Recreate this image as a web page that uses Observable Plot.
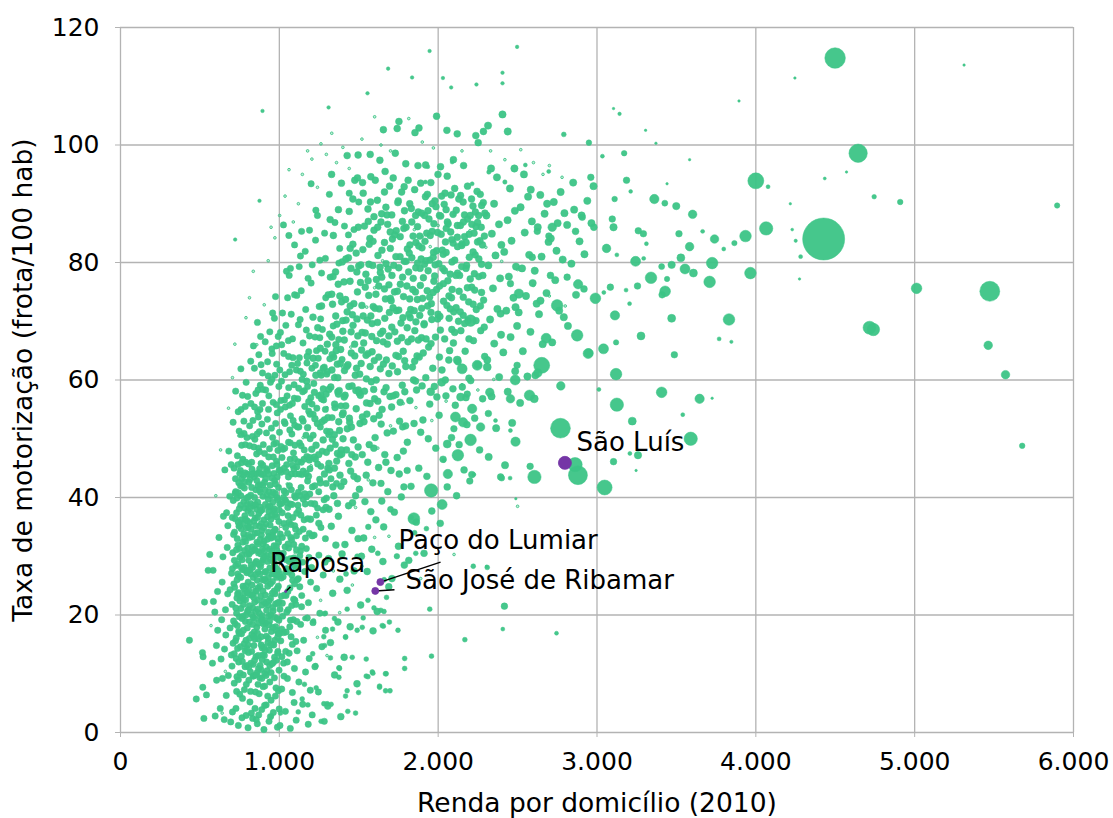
<!DOCTYPE html>
<html><head><meta charset="utf-8">
<script src="https://cdn.jsdelivr.net/npm/d3@7"></script>
<script src="https://cdn.jsdelivr.net/npm/@observablehq/plot@0.6"></script>
<style>body{margin:0;background:#fff;} svg{display:block;}</style>
</head><body><div id="chart"></div>
<script>
const xTicks = [0,1000,2000,3000,4000,5000,6000];
const yTicks = [0,20,40,60,80,100,120];
const xLabel = "Renda por domicílio (2010)";
const yLabel = "Taxa de motorização (frota/100 hab)";

// dense cloud, municipalities with low income (pairs: income, rate)
const cloudCore = [
[434,15.7],[477,5.7],[516,13.6],[520,12.9],[518,7.7],[541,6.4],[525,2.4],[529,22.2],[579,11.8],[596,2.8],[583,27.6],[562,30.3],[552,27.6],[585,22.3],[594,20.5],[640,25.6],[612,17.4],[605,8.9],[628,4.1],[655,14.2],[672,31.5],[648,36.8],[688,40.2],[661,20.9],[679,9.7],[633,12.5],[694,1.8],[657,44.7],[620,33.2],[699,27.1],[666,6.3],[690,17.8],[645,29.9],[611,24.0],[682,47.9],[675,23.6],[653,2.2],[604,14.8],[637,19.2],[668,37.4],[698,13.2],[642,9.2],
[705,3.5],[742,1.2],[768,5.8],[791,2.9],[716,8.4],[753,10.1],[780,7.3],[728,12.6],[797,11.4],[709,15.2],[737,14.3],[762,16.8],[785,13.9],[721,18.5],[748,19.7],[774,17.4],[799,20.6],[703,21.8],[733,22.9],[758,21.1],[782,23.7],[714,25.3],[745,26.6],[771,24.9],[795,27.2],[726,28.4],[752,29.8],[779,28.1],[707,30.6],[739,31.9],[764,30.2],[788,32.5],[718,34.1],[750,35.3],[776,33.8],[799,36.0],[731,37.4],[757,38.7],[783,36.9],[710,39.5],[742,40.8],[769,41.9],[794,39.9],[724,43.2],[755,44.6],[781,42.7],[736,47.1],[763,48.9],[789,46.0],[747,51.3],[777,53.0],[796,50.2],[768,57.4],[791,59.6],
[712,19.0],[729,16.1],[761,13.0],[786,18.9],[744,23.8],[770,27.7],[717,29.3],[791,25.0],[735,33.0],[760,34.7],[782,31.0],[704,36.6],[748,38.1],[777,39.3],[725,41.0],[798,44.0],[756,42.0],[739,45.6],[770,46.5],[715,45.0],[786,49.0],[759,55.0],[742,9.0],[790,15.7],[774,21.8],[731,7.0],[765,2.5],
[803,0.8],[832,2.4],[861,1.5],[889,3.9],[815,5.2],[847,4.1],[873,6.6],[898,7.8],[808,8.9],[838,9.6],[866,8.2],[884,10.7],[821,11.8],[853,12.9],[879,11.4],[806,13.6],[840,14.8],[869,15.9],[895,13.2],[827,16.7],[858,17.9],[886,16.3],[812,18.8],[845,19.4],[874,20.3],[899,18.5],[833,21.2],[862,22.5],[891,21.7],[817,23.4],[849,24.1],[878,24.9],[804,25.6],[836,26.4],[866,27.3],[893,26.0],[823,28.5],[855,29.1],[882,28.2],[810,30.4],[843,31.2],[871,30.7],[897,32.1],[829,33.3],[860,34.0],[887,33.6],[814,35.7],[848,36.5],[876,35.1],[802,37.8],[835,38.6],[864,39.2],[892,37.9],[820,40.4],[852,41.3],[881,40.9],[808,42.6],[841,43.5],[869,44.2],[896,42.1],[826,46.0],[857,47.4],[885,45.8],[813,48.8],[846,49.9],[874,51.2],[899,49.0],[834,53.1],[863,54.6],[890,52.5],[821,56.0],[852,57.7],[880,59.1],[843,62.0],[871,64.3],[894,61.2],[837,65.8],[882,67.4],
[811,16.0],[825,20.1],[839,23.0],[851,26.9],[868,18.6],[883,23.2],[897,29.4],[816,27.7],[830,31.6],[859,32.4],[872,37.3],[887,35.6],[818,39.0],[844,40.0],[866,42.0],[828,44.8],[857,38.0],[805,20.9],[892,14.4],[877,9.3],[850,6.9],[824,3.3],[870,3.0],[836,11.6],[860,10.2],[897,24.1],[842,17.1],[812,33.2],[854,44.0],[875,47.8],[889,43.9],[806,45.7],[831,50.4],[860,50.8],[894,56.0],[878,55.0],[866,58.3],
[903,0.5],[935,1.9],[962,3.4],[988,0.9],[917,4.7],[948,5.5],[975,6.2],[999,4.0],[908,7.9],[940,8.6],[969,9.3],[994,7.1],[923,10.5],[954,11.7],[981,12.3],[906,13.1],[937,14.0],[965,14.9],[991,13.8],[919,16.4],[950,17.2],[977,18.0],[902,19.1],[933,19.8],[961,20.7],[986,19.4],[914,22.0],[945,22.8],[973,23.6],[998,22.2],[927,24.9],[957,25.7],[983,26.4],[909,27.3],[940,28.0],[968,28.8],[993,27.6],[921,30.1],[952,30.9],[979,31.7],[904,32.6],[935,33.4],[963,34.2],[989,33.0],[916,35.5],[947,36.3],[974,37.1],[997,35.9],[929,38.4],[959,39.2],[985,40.0],[911,41.3],[942,42.1],[970,42.9],[995,41.7],[924,44.6],[955,45.4],[982,46.2],[907,47.5],[938,48.3],[966,49.1],[991,48.0],[919,51.0],[950,51.8],[977,52.6],[932,55.0],[961,56.2],[987,54.4],[914,58.3],[944,59.6],[972,60.8],[997,58.9],[926,63.1],[955,64.5],[983,62.7],[940,68.2],[969,70.5],[993,67.4],[953,65.3],[930,60.7],[976,74.2],
[913,18.6],[931,16.0],[944,25.3],[958,21.3],[972,15.7],[987,24.5],[905,29.9],[925,36.7],[939,31.2],[962,37.8],[978,28.0],[996,30.5],[912,38.8],[949,40.3],[966,44.1],[986,43.5],[901,44.0],[933,46.9],[958,50.2],[980,49.3],[920,12.0],[946,20.0],[992,16.9],[963,27.0],[935,41.0],[954,33.6],[915,25.8],[975,34.5],[908,10.0],[998,10.6],[944,2.7],[927,6.2],
[1004,1.2],[1038,3.6],[1069,0.7],[1093,5.1],[1015,7.4],[1051,9.2],[1082,6.8],[1027,11.8],[1062,13.5],[1095,10.9],[1009,15.6],[1043,17.1],[1074,16.3],[1021,19.8],[1056,20.9],[1088,19.2],[1033,23.4],[1067,24.6],[1098,22.5],[1012,26.3],[1047,27.9],[1079,26.8],[1025,30.5],[1059,31.4],[1091,29.7],[1006,33.8],[1040,34.9],[1072,33.2],[1018,37.4],[1053,38.3],[1085,36.6],[1030,41.1],[1064,42.0],[1096,40.3],[1011,44.3],[1046,45.6],[1077,44.0],[1023,48.2],[1058,49.4],[1089,47.6],[1036,52.6],[1070,53.9],[1001,51.1],[1049,57.3],[1082,56.0],[1014,59.8],[1065,61.4],[1093,59.2],[1028,64.5],[1057,66.7],[1086,63.8],[1041,69.3],[1075,71.2],[1020,71.4],[1096,74.5],[1062,77.8],[1070,79.0],[1026,86.4],[1096,83.0],[1050,12.0],[1084,25.9],[1037,39.6],[1068,46.5],[1003,38.9],[1019,22.0],[1078,32.8],[1044,29.4],[1092,44.9],[1008,55.0],[1031,45.0],[1061,35.8],[1097,52.3],[1003,61.7],[1052,74.0],
[1106,2.1],[1147,4.8],[1182,1.4],[1123,8.6],[1165,10.3],[1195,7.2],[1112,13.9],[1153,15.7],[1188,12.6],[1134,18.4],[1176,19.5],[1104,21.8],[1141,23.3],[1183,22.1],[1119,26.2],[1160,27.4],[1197,25.6],[1129,30.1],[1170,31.3],[1108,33.5],[1150,34.6],[1189,33.9],[1122,37.8],[1163,38.9],[1137,41.7],[1178,42.8],[1110,45.2],[1155,46.5],[1193,44.9],[1127,49.3],[1168,50.6],[1143,53.4],[1185,54.7],[1116,56.8],[1158,58.2],[1198,57.0],[1132,61.5],[1174,62.9],[1149,66.3],[1190,67.5],[1120,69.4],[1166,72.0],[1138,75.2],[1181,77.3],[1133,81.1],[1163,81.9],[1200,93.4],[1156,36.2],[1102,40.0],[1146,29.0],[1192,40.6],[1173,47.0],[1115,52.0],[1187,29.8],[1126,63.8],[1160,55.5],[1105,28.0],[1139,46.0],[1179,36.4],[1151,61.0],[1194,50.0],
[1207,3.0],[1246,6.9],[1283,1.9],[1224,11.2],[1268,14.6],[1212,18.7],[1255,20.3],[1291,17.4],[1235,24.5],[1276,26.8],[1203,28.1],[1249,30.2],[1288,29.0],[1219,33.6],[1262,34.9],[1241,38.2],[1282,39.6],[1208,41.8],[1254,43.1],[1295,42.4],[1228,46.5],[1270,47.9],[1213,50.6],[1258,52.0],[1297,51.3],[1236,55.2],[1279,56.6],[1217,59.4],[1264,60.8],[1245,63.7],[1288,64.9],[1225,67.3],[1271,68.6],[1207,79.6],[1251,72.5],[1292,74.0],[1228,83.8],[1266,78.2],[1240,88.0],[1285,85.0],[1262,45.3],[1233,37.0],[1276,58.5],[1205,62.0],[1290,33.0],[1248,57.3],[1223,42.0],[1299,61.0]
];

// more of the dense core (further reading passes)
const cloudCore2 = [
[702,11.3],[719,24.7],[733,39.9],[751,6.5],[766,29.4],[784,44.2],[798,17.8],[712,33.7],[727,4.1],[744,17.2],[759,36.2],[773,9.8],[788,22.6],[805,40.1],[819,7.0],[828,25.1],[846,33.9],[855,2.2],[868,48.4],[881,19.6],[893,31.2],[907,4.6],[918,44.9],[929,21.7],[941,38.5],[956,15.1],[967,31.8],[979,7.6],[992,39.6],[1004,21.0],[1017,46.8],[1029,9.6],[1041,27.4],[1055,36.9],[1066,18.0],[1079,50.8],[1091,32.0],[1104,15.5],[1117,38.7],[1129,24.8],[1142,43.9],[690,24.3],[676,35.2],[663,16.6],[697,45.6],[709,52.8],[725,58.1],[741,54.6],[758,61.9],[778,50.9],[801,57.2],[820,63.2],[844,55.4],[862,69.8],[885,62.6],[911,66.5],[934,57.3],[958,71.4],[981,65.8],[1007,68.1],[1032,56.6],[1058,64.0],[1083,67.0],[1107,61.7],[1131,70.3],[1147,58.0],
[716,13.4],[731,20.3],[748,31.3],[763,43.2],[779,15.1],[794,34.8],[808,24.2],[823,37.3],[837,44.1],[852,20.6],[867,13.1],[882,37.7],[896,45.5],[911,23.4],[926,29.1],[940,11.4],[953,43.3],[968,24.1],[983,36.7],[997,19.1],[1012,29.6],[1026,40.0],[1040,13.8],[1054,24.0],[1069,38.9],[1083,29.2],[1098,48.9],[1112,26.0],[1126,34.2],[1140,21.4],[705,27.9],[722,36.4],[738,27.0],[754,23.0],[771,35.6],[786,27.6],[801,31.4],[815,43.1],[831,18.4],[848,28.8],[863,36.6],[877,27.0],[890,9.2],[903,36.2],[916,9.7],[931,34.1],[947,30.2],[962,46.9],[976,21.9],[990,29.8],[1005,44.7],[1019,33.2],[1034,48.4],[1047,20.5],[1062,29.1],[1076,41.3],[1090,22.7],[1103,34.6],[1118,46.1],[1133,30.9],
[736,18.2],[757,26.4],[781,33.1],[803,14.9],[824,30.8],[845,22.2],[866,32.1],[888,28.9],[909,17.6],[930,26.4],[951,37.0],[972,28.2],[994,24.9],[1015,17.6],[1036,31.6],[1057,43.5],[1078,21.6],[1099,28.3],[1120,40.9],[1141,31.7],
[752,22.4],[767,12.1],[783,38.2],[739,28.7],[724,15.6],[796,30.3],[808,11.1],[822,34.6],[838,16.3],[851,31.0],[865,24.6],[879,42.2],[893,19.9],[906,26.1],[921,40.4],[935,18.3],[948,33.1],[962,11.9],[975,40.7],[989,16.2],[1002,27.0],[1016,12.9],[1029,35.6],[1043,44.4],[1056,27.3],[1070,19.1],[1083,45.5],[1097,35.2],[1110,18.9],[1124,44.0],[746,35.1],[761,45.9],[777,24.5],[792,8.2],[806,35.0],[820,27.0],[834,9.6],[849,38.8],[862,16.9],[876,44.9],[890,34.4],[903,14.5],[917,31.6],[931,44.0],[944,14.9],[958,29.2],[971,19.6],[985,45.6],[999,37.9],[1013,23.2],[1027,17.0],[1041,40.8],[1055,32.1],[1069,49.3],[1082,15.0],[1096,25.3],[1109,37.3],[1123,29.0],[1137,48.8],[1151,39.7],[733,9.5],[745,42.5],[771,19.8],[799,23.8],[826,41.7],[853,9.8],[880,32.9],[907,42.6],[934,22.4],[961,40.9],[988,22.0],[1015,39.0],[1042,23.3],[1069,29.6],[1096,46.6],[1123,52.0],[1150,44.5],[1064,55.7],[1036,60.9],[1010,56.5],[981,55.8],[953,60.1],[925,53.3],[896,58.4],[868,53.7],[840,48.6],[813,52.2],[786,55.5],[760,50.7],
[726,21.2],[741,35.8],[755,14.6],[769,32.4],[784,11.2],[798,38.8],[812,21.6],[826,13.8],[841,36.0],[855,24.0],[869,10.9],[883,30.4],[897,40.2],[911,14.0],[925,32.9],[939,19.0],[953,27.0],[967,38.1],[981,17.4],[995,32.4],
[730,31.1],[744,12.0],[758,40.3],[772,22.8],[787,36.3],[801,27.5],[815,38.2],[829,23.4],[844,12.3],[858,42.9],[872,28.6],[886,14.9],[900,22.3],[914,43.2],[928,15.3],[942,35.3],[956,23.7],[970,12.8],[984,31.0],[998,44.6],
[722,40.7],[737,23.6],[751,44.1],[765,19.4],[780,41.6],[794,14.3],[808,29.3],[822,43.9],[836,19.6],[850,35.2],[864,21.0],[878,38.4],[892,12.4],[906,30.9],[920,20.8],[934,37.6],[948,10.2],[962,33.3],[976,42.3],[990,13.5],
[734,26.0],[748,16.9],[762,28.0],[776,43.8],[790,20.0],[804,33.6],[818,10.3],[832,28.1],[846,15.9],[860,25.9],[874,41.3],[888,19.1],[902,34.9],[916,27.4],[930,39.7],[944,29.5],[958,17.9],[972,34.6],[986,26.8],[1000,16.8],
[1010,48.7],[1024,26.5],[1038,55.4],[1052,33.9],[1066,51.5],[1080,38.8],[1094,56.9],[1108,31.1],[1122,58.6],[1136,37.0],[1150,53.0],[1164,33.1],[1178,58.9],[1192,46.8],[1206,55.9],[1220,46.9],[1234,65.0],[1248,41.0],[1262,57.5],[1276,37.9],[1290,55.0],[1304,45.0],[1318,63.6],[1332,53.6],[1346,60.4],[1360,42.4],[1374,66.9],[1388,55.6],
[1017,29.8],[1031,52.9],[1045,39.2],[1059,58.7],[1073,35.4],[1087,53.1],[1101,44.0],[1115,62.8],[1129,40.3],[1143,60.1],[1157,48.1],[1171,40.1],[1185,64.8],[1199,39.0],[1213,54.2],[1227,62.5],[1241,45.7],[1255,67.2],[1269,52.9],[1283,62.2],[1297,39.9],[1311,50.7],[1325,43.2],[1339,69.2],[1353,49.0],[1367,58.0],[1381,47.2],[1395,63.5],
[1015,66.0],[1045,78.5],[1078,62.5],[1110,74.4],[1140,85.3],[1170,68.5],[1200,76.5],[1230,88.9],[1260,70.4],[1290,80.7],[1320,77.5],[1350,86.8],[1380,82.4],[1410,86.2],[1440,91.8],[1470,85.6],[1500,90.3],[1060,84.6],[1125,79.3],[1190,85.5],[1255,80.4],[1315,91.6],[1375,79.9],[1435,84.7]
];

// the rising band of middle incomes
const cloudBand = [
[1305,4.5],[1348,9.8],[1387,2.7],[1322,15.3],[1369,18.8],[1336,23.7],[1381,26.1],[1310,29.6],[1356,31.9],[1395,30.4],[1327,35.1],[1372,36.8],[1343,40.3],[1388,41.9],[1315,44.7],[1361,46.2],[1334,49.9],[1379,51.4],[1306,53.6],[1351,55.3],[1397,54.1],[1324,58.8],[1368,60.4],[1342,63.9],[1386,65.2],[1317,67.8],[1362,69.5],[1335,72.9],[1381,74.3],[1320,87.3],[1354,78.4],[1396,80.1],[1340,84.6],[1372,89.0],[1329,95.0],[1391,93.5],[1347,45.0],[1393,47.4],[1366,39.0],[1313,38.0],[1377,58.2],[1331,61.7],[1358,65.0],[1399,70.1],[1308,74.5],
[1408,12.8],[1446,18.0],[1489,8.3],[1427,24.2],[1471,27.5],[1413,32.0],[1457,34.4],[1496,33.0],[1436,38.6],[1480,40.3],[1406,42.7],[1449,44.5],[1492,43.2],[1423,48.1],[1466,49.8],[1441,53.5],[1484,55.1],[1414,57.4],[1458,59.0],[1498,58.3],[1432,62.6],[1475,64.1],[1409,66.8],[1452,68.2],[1494,67.5],[1427,71.6],[1469,73.0],[1445,76.8],[1488,78.4],[1419,80.6],[1463,83.1],[1497,86.0],[1440,88.7],[1463,90.8],[1496,98.3],[1427,98.2],[1475,94.0],[1492,94.4],[1454,52.0],[1438,45.8],[1478,46.9],[1401,50.0],[1461,39.1],[1486,62.0],[1417,73.7],[1451,79.0],
[1512,21.7],[1553,27.4],[1590,17.3],[1531,33.1],[1576,37.6],[1504,41.4],[1547,43.8],[1589,42.5],[1522,47.3],[1566,49.0],[1508,52.6],[1551,54.2],[1594,53.4],[1536,58.1],[1579,59.7],[1515,62.8],[1559,64.5],[1598,63.3],[1541,68.0],[1584,69.6],[1520,72.7],[1563,74.4],[1545,78.0],[1588,79.5],[1526,82.2],[1570,84.1],[1574,90.3],[1528,91.8],[1524,93.6],[1576,94.6],[1572,98.4],[1557,46.0],[1595,48.4],[1533,52.9],[1571,56.0],[1503,57.8],[1548,60.2],[1591,72.5],[1511,76.6],[1560,87.0],[1596,85.5],[1539,39.3],[1582,31.2],[1517,30.0],
[1616,20.6],[1652,29.1],[1689,24.8],[1608,36.2],[1645,39.4],[1683,41.0],[1625,45.1],[1664,47.3],[1603,50.2],[1641,52.5],[1679,51.0],[1620,56.4],[1659,58.0],[1697,57.2],[1636,61.9],[1674,63.4],[1612,66.7],[1651,68.3],[1690,67.5],[1629,72.1],[1668,73.8],[1645,77.5],[1685,78.9],[1621,81.2],[1662,83.4],[1699,82.4],[1640,86.9],[1678,88.1],[1633,97.4],[1666,95.5],[1662,92.0],[1617,90.6],[1655,102.6],[1604,94.0],[1694,93.0],[1647,55.0],[1671,46.0],[1610,60.0],[1693,71.5],[1626,76.0],[1657,35.0],
[1709,26.2],[1750,31.7],[1787,28.5],[1724,37.5],[1768,40.1],[1703,44.6],[1742,46.8],[1781,47.9],[1718,51.3],[1757,53.0],[1795,52.2],[1734,57.5],[1774,59.1],[1711,62.4],[1750,64.0],[1789,63.3],[1727,68.2],[1766,69.7],[1704,73.5],[1743,75.1],[1782,74.2],[1720,79.5],[1760,81.0],[1798,80.2],[1736,85.4],[1775,87.0],[1717,94.4],[1786,92.9],[1742,102.8],[1753,104.0],[1749,90.5],[1796,96.8],[1730,98.6],[1761,56.2],[1712,84.0],[1790,58.0],[1737,71.8],[1776,77.5],[1707,55.4],[1755,44.0],
[1815,29.3],[1862,35.8],[1829,41.9],[1878,45.0],[1806,49.4],[1848,52.6],[1890,51.1],[1822,56.5],[1864,58.3],[1838,62.2],[1881,63.9],[1810,66.5],[1853,68.4],[1895,67.2],[1827,72.0],[1869,73.7],[1843,77.3],[1886,79.0],[1818,81.6],[1860,83.4],[1898,82.5],[1834,86.9],[1875,88.6],[1852,92.4],[1811,94.0],[1890,93.5],[1854,102.1],[1879,102.9],[1873,96.5],[1845,60.0],[1899,59.0],[1803,76.0],[1870,79.9],[1821,90.0],[1857,75.0],[1884,71.0],[1832,67.0],
[1911,30.5],[1960,37.7],[1929,43.6],[1985,48.4],[1904,53.2],[1947,55.9],[1992,57.1],[1922,60.4],[1966,62.0],[1940,65.6],[1983,67.3],[1912,69.6],[1955,71.5],[1997,70.4],[1931,75.2],[1973,76.8],[1948,80.4],[1990,82.0],[1917,83.6],[1962,85.3],[1936,88.8],[1979,90.5],[1954,93.6],[1999,95.0],[1921,96.6],[1990,104.9],[1907,77.4],[1938,50.0],[1976,58.9],[1914,88.0],[1969,80.9],[1924,67.0],[1957,73.0],
[2013,35.6],[2057,41.8],[2031,46.5],[2084,50.2],[2006,54.0],[2049,57.3],[2093,58.5],[2024,61.7],[2067,63.4],[2041,67.0],[2086,68.6],[2011,70.8],[2055,72.7],[2098,71.6],[2033,76.4],[2076,78.0],[2050,81.7],[2094,83.3],[2019,84.8],[2063,86.6],[2038,89.9],[2081,91.5],[2057,94.7],[2015,96.3],[2096,97.5],[2055,102.5],[2072,65.0],[2028,79.0],[2088,75.4],[2045,60.0],[2008,88.0],
[2116,40.3],[2163,44.7],[2132,49.0],[2181,52.4],[2108,55.7],[2152,58.8],[2194,60.3],[2125,63.1],[2170,64.9],[2143,68.4],[2188,70.1],[2113,72.3],[2158,74.1],[2135,77.8],[2179,79.5],[2150,83.2],[2195,84.8],[2121,86.3],[2166,88.1],[2141,91.4],[2185,93.0],[2120,101.9],[2160,96.5],[2104,80.4],[2175,57.0],[2128,70.0],
[2212,43.9],[2261,48.1],[2230,53.5],[2280,56.8],[2205,59.9],[2249,62.6],[2293,64.0],[2222,66.7],[2268,68.4],[2240,72.0],[2286,73.6],[2211,75.8],[2256,77.6],[2233,81.3],[2279,83.0],[2248,86.8],[2294,88.4],[2219,89.6],[2265,91.6],[2237,101.6],[2285,102.3],[2252,100.4],[2273,79.7],[2226,85.0],[2290,69.0]
];

// more of the band (further reading passes)
const cloudBand2 = [
[1160,40.6],[1178,51.9],[1196,36.3],[1213,63.7],[1231,48.9],[1249,35.6],[1266,56.8],[1284,44.0],[1302,66.1],[1319,51.2],[1337,41.8],[1355,70.9],[1372,57.6],[1390,48.1],[1407,76.7],[1425,62.3],[1443,52.8],[1460,71.1],[1478,60.8],[1496,48.6],[1513,79.6],[1531,66.3],[1549,56.1],[1566,83.1],[1584,64.8],[1602,72.2],[1619,86.0],[1637,67.9],[1655,62.7],[1672,79.8],[1690,61.1],[1708,88.1],[1725,75.0],[1743,66.6],[1761,84.4],[1778,70.6],[1796,62.3],[1814,78.4],[1831,89.2],[1849,71.8],[1867,64.1],[1884,84.5],[1902,73.9],[1920,91.2],[1937,78.6],[1955,66.2],[1973,86.6],[1990,75.4],[2008,63.9],[2026,82.1],[2043,91.8],[2061,76.9],[2079,85.2],[2096,66.3],[2114,88.9],[2132,75.1],[2149,82.9],[2167,69.6],[2185,87.4],[2202,77.2],[2220,81.8],[2238,70.1],[2255,88.0],[2273,74.9],[2291,84.5],
[1172,59.8],[1189,46.4],[1207,33.5],[1224,53.4],[1242,68.9],[1259,42.5],[1277,62.0],[1294,38.3],[1312,58.4],[1330,74.6],[1347,50.7],[1365,62.7],[1382,43.8],[1400,68.3],[1418,55.6],[1435,80.8],[1453,64.6],[1470,43.6],[1488,70.4],[1506,61.0],[1523,53.7],[1541,75.8],[1558,89.1],[1576,70.9],[1594,58.4],[1611,77.1],[1629,54.0],[1646,82.1],[1664,70.5],[1682,86.5],[1699,73.9],[1717,57.3],[1734,81.0],[1752,71.9],[1770,92.0],[1787,80.2],[1805,68.9],[1822,83.0],[1840,75.4],[1858,88.0],[1875,66.8],[1893,80.6],[1911,69.4],[1928,85.0],[1946,74.1],[1963,90.0],[1981,79.6],[1999,71.2],[2016,87.9],[2034,73.4],[2051,85.8],[2069,70.5],[2087,80.1],[2104,92.6],[2122,82.7],[2139,71.6],[2157,90.3],[2175,79.0],[2192,73.3],[2210,90.8],[2228,78.1],[2245,92.1],[2263,83.7],[2281,77.8],
[1183,43.6],[1221,57.9],[1258,65.4],[1296,47.7],[1333,64.3],[1371,76.3],[1408,57.1],[1446,72.6],[1484,81.6],[1521,68.1],[1559,76.9],[1596,87.8],[1634,79.2],[1671,89.4],[1709,77.8],[1746,90.2],[1784,85.8],[1821,73.8],[1859,79.1],[1896,88.4],[1934,72.6],[1971,81.7],[2009,76.0],[2046,83.5],[2084,74.0],[2121,84.3],[2159,86.9],[2196,80.9],[2234,88.6],[2271,86.0],
[1168,44.1],[1186,56.3],[1204,48.2],[1222,38.9],[1240,52.6],[1258,61.2],[1276,49.8],[1294,57.6],[1312,45.8],[1330,67.3],[1348,55.9],[1366,47.5],[1384,62.8],[1402,54.4],[1420,70.2],[1438,58.9],[1456,47.3],[1474,66.1],[1492,75.0],[1510,57.4],[1528,70.9],[1546,64.2],[1564,79.7],[1582,67.4],[1600,56.8],[1618,69.8],[1636,78.3],[1654,66.5],[1672,58.7],[1690,76.2],[1708,69.0],[1726,84.7],[1744,61.4],[1762,76.3],[1780,64.9],[1798,86.0],[1816,71.2],[1834,80.8],[1852,63.2],[1870,86.1],[1888,76.1],[1906,64.6],[1924,80.3],[1942,87.4],[1960,70.3],[1978,77.7],[1996,85.1],[2014,68.5],[2032,81.4],[2050,89.0],[2068,74.3],[2086,83.9],[2104,68.1],[2122,78.2],[2140,86.3],[2158,71.0],[2176,83.4],[2194,67.0],[2212,86.5],[2230,75.3],[2248,83.5],[2266,72.6],[2284,90.2],
[1176,64.0],[1194,54.2],[1212,70.7],[1230,60.8],[1248,47.3],[1266,72.6],[1284,53.2],[1302,61.4],[1320,48.4],[1338,77.6],[1356,66.0],[1374,52.9],[1392,73.3],[1410,61.6],[1428,51.7],[1446,82.4],[1464,69.3],[1482,58.2],[1500,79.4],[1518,65.1],[1536,86.2],[1554,70.2],[1572,62.3],[1590,83.6],[1608,74.6],[1626,63.9],[1644,88.3],[1662,75.5],[1680,66.1],[1698,85.2],[1716,72.3],[1734,64.2],[1752,79.1],[1770,67.2],[1788,88.8],[1806,82.3],[1824,70.6],[1842,84.5],[1860,69.9],[1878,82.8],[1896,72.2],[1914,79.7],[1932,91.6],[1950,84.6],[1968,74.9],[1986,89.5],[2004,79.8],[2022,91.3],[2040,78.6],[2058,86.9],[2076,72.1],[2094,88.2],[2112,77.8],[2130,90.8],[2148,79.3],[2166,84.4],[2184,75.7],[2202,88.0],[2220,72.9],[2238,86.1],[2256,80.6],[2274,89.7]
];

// higher incomes, larger towns
const cloudRight = [
[2314,103.3],[2318,46.9],[2365,51.8],[2336,57.2],[2384,60.5],[2309,63.4],[2353,66.2],[2396,67.7],[2327,70.3],[2373,72.1],[2345,75.6],[2390,77.3],[2316,79.5],[2361,81.2],[2338,84.9],[2383,86.5],[2352,90.0],[2304,88.0],[2370,94.5],[2333,96.0],[2398,83.0],
[2421,45.5],[2466,52.7],[2438,58.0],[2485,61.5],[2410,64.7],[2456,67.3],[2497,69.2],[2429,71.8],[2474,74.0],[2445,77.6],[2490,79.3],[2416,81.8],[2462,83.7],[2437,87.2],[2483,88.8],[2452,92.6],[2438,102.3],[2405,105.2],[2480,96.0],
[2516,56.1],[2562,60.6],[2533,64.9],[2581,68.2],[2507,71.5],[2553,74.3],[2595,76.5],[2528,79.0],[2573,81.3],[2545,85.1],[2590,87.0],[2519,89.4],[2566,91.2],[2540,95.0],[2583,92.4],
[2612,60.8],[2658,66.1],[2635,71.2],[2682,74.8],[2608,78.6],[2651,81.0],[2695,83.5],[2627,86.0],[2670,88.3],[2643,91.5],[2686,90.0],[2620,73.0],
[2718,66.4],[2762,71.8],[2737,77.0],[2784,80.5],[2709,84.1],[2752,86.7],[2795,88.4],[2728,90.3],[2771,92.0],[2745,82.0],
[2817,69.2],[2868,74.5],[2839,79.8],[2890,83.6],[2812,86.4],[2856,89.0],[2903,88.0],[2939,90.5],[2965,86.7],[2921,81.4],[2978,93.0],[2850,93.6]
];

// low-rate scatter below the band
const cloudLow = [
[1958,13.0],[2168,15.8],[1789,10.9],[1789,12.6],[1673,10.0],[1558,9.5],[1589,10.1],[1669,7.1],[1631,7.7],[1499,6.8],[1431,3.6],[1379,10.9],[1547,12.5],[1417,16.3],[1490,17.4],[1655,18.1],[1558,22.5],[1659,20.6],[1747,17.4],[1947,21.0],[2221,28.3],[2309,28.1],[1859,30.5],[1926,34.7],[1852,34.0],[1831,36.6],[1290,20.3],[1335,17.6],[1210,13.4],[1231,11.3],[1377,11.0],[1326,4.8],[1263,1.9],[1228,11.4],[1375,11.0],[1459,12.8],[1547,9.6],[1585,10.3],[1668,10.0],[1631,7.9],[1697,7.1],[1480,3.3],[1417,6.2],[1427,7.1],[1280,4.9],[1301,4.9],[1158,8.2],[1119,3.5],[1007,3.3],[950,2.8],[1232,7.6],[1180,4.7],[1144,5.7],[1375,9.4],[1322,12.7],[1280,16.3],[1285,14.8],[1347,19.4],[1284,20.2],[1215,19.0],[1160,19.4],[1417,16.2],[1427,21.0],[1528,19.5],[1522,17.9],[1648,18.2],[1693,18.8],[1639,20.8],[1675,23.0],[1596,21.2]
];

// very small towns drawn as thin rings
const cloudTiny = [
[745,50.5],[762,62.0],[790,70.6],[812,74.0],[836,78.5],[858,66.0],[905,72.8],[930,80.3],[948,86.0],[972,84.2],[1002,88.0],[1036,91.3],[1061,95.8],[1088,86.9],[1120,90.0],[1145,95.0],[1178,99.0],[1205,97.6],[1240,92.8],[1262,100.2],[1296,98.4],[1330,102.0],[1360,97.0],[1400,99.6],[1440,96.0],[1520,101.0],[1600,104.8],[1640,100.0],[1700,99.0],[1815,104.5],[1900,100.5],[1970,99.5],[2150,99.0],[2330,99.0],[2420,97.5],[2520,99.2],[2600,97.0],[2660,95.0],[2700,96.5],[2780,94.5],
[860,30.3],[880,15.2],[940,23.5],[1010,35.1],[1050,42.3],[1100,30.6],[1150,50.2],[1200,45.4],[1250,40.7],[1300,55.3],[1350,60.8],[1400,62.2],[1450,65.6],[1500,70.1],[1550,72.4],[1600,75.7],[1650,80.3],[1700,78.1],[1750,84.5],[1800,86.2],[1850,85.6],[1900,84.4],[1950,82.7],[2000,86.3],[2100,88.2],[2200,85.4],[2300,82.6],[2400,80.2],[2500,78.8],[2600,76.1],[2700,74.3],[2800,72.6],
[1180,28.2],[1260,22.5],[1340,27.5],[1420,32.1],[1480,38.3],[1560,43.0],[1620,48.4],[1700,52.2],[1780,56.0],[1860,55.3],[1960,53.1],[2050,56.4],[2150,59.2],[2250,58.3],[2350,60.1],[1240,16.2],[1300,13.1],[1380,20.4],[1460,25.1],[1520,28.3],[1600,33.2],[1690,33.4],[1890,26.2],[2100,30.3],[2500,38.5],
[600,40.3],[630,48.1],[680,55.2],[705,60.4],[720,66.1],[660,10.4],[570,18.2],[640,3.3]
];

// isolated points at the top of the chart
const outliers = [
[722,83.9],[894,105.8],[875,90.5],[1310,106.4],[1555,108.8],[1685,113.0],[1836,111.5],[1946,116.0],[2030,111.4],[2082,109.8],[2241,110.3],[2405,110.5],[2405,112.3],[2497,116.7]
];

// larger municipalities: [income, rate, population (thousands)]
const cities = [
[4499,114.8,2700],[4644,98.6,2150],[4000,93.9,1630],[4077,92.9,100],[4434,94.3,57],[4571,95.4,40],[4745,91.2,135],[4909,90.3,200],[5897,89.7,185],[5311,113.6,40],[4246,111.4,40],[3894,107.5,40],[4065,85.8,1140],[4217,90.0,40],[4229,85.6,50],[4251,83.7,70],[4282,81.0,100],[4427,84.0,11250],[4275,77.2,40],[5012,75.6,720],[5473,75.1,2550],[4716,68.9,1080],[4740,68.6,1000],[5463,65.9,470],[3966,78.2,860],[3935,84.5,860],[3865,83.3,185],[3798,82.3,100],[3740,84.0,470],[3831,70.3,860],[3769,67.0,100],[3846,66.5,70],[3709,76.7,860],[3725,79.9,860],[3583,82.7,470],[3602,88.2,470],[3499,89.6,350],[3427,90.1,230],[3361,90.8,560],[3516,84.9,280],[3665,85.3,100],[3407,79.3,230],[3528,80.8,408],[3470,79.6,350],[3554,78.9,640],[3607,78.2,408],[3340,77.4,860],[3429,75.1,730],[3410,74.5,280],[3441,77.2,185],[3255,76.0,280],[3243,80.2,640],[3294,80.7,100],[3311,83.2,100],[3292,84.9,280],[3260,85.4,280],[3186,94.0,280],[3171,98.6,200],[3212,92.1,90],[3142,105.3,80],[3104,106.2,40],[3306,102.5,40],[3371,100.3,40],[3583,97.5,40],[3441,93.4,40],[3111,90.8,200],[3096,87.4,280],[3104,86.0,350],[3060,82.4,470],[3125,81.3,100],[3034,98.1,100],[2961,94.5,280],[2949,100.4,200],[3113,71.0,560],[2990,73.9,730],[3043,74.9,100],[3084,75.8,280],[3183,75.3,100],[3470,70.5,408],[3277,67.5,408],[3120,66.4,185],[3041,65.3,640],[2949,64.6,470],[3487,64.3,280],[3205,73.0,100],
[2770,51.8,2500],[2862,45.6,1300],[2880,43.8,2300],[3048,41.7,1430],[2606,43.5,1140],[2579,45.3,280],[2400,43.3,230],[2453,43.3,100],[2487,49.5,560],[3104,46.1,280],[3207,47.5,100],[3258,47.2,350],[3246,44.6,40],[3590,50.0,1140],[3222,53.0,408],[3125,55.8,1140],[3407,57.9,730],[3646,56.8,560],[3725,56.9,40],[3540,54.1,100],[3012,58.4,100],[3120,61.0,860],[5572,60.9,470],[5677,48.8,200],[2417,21.5,280],[2407,17.6,100],[2745,16.9,100],[2304,28.3,40],[2489,39.8,40],
[2652,62.5,1630],[2575,57.4,700],[2455,56.8,470],[2605,56.8,408],[2772,59.0,470],[2485,60.0,640],[2944,64.5,640],[2875,67.6,860],[2680,67.1,640],[2627,61.2,470],[2497,62.5,280],
[2393,43.5,280],[1956,41.2,1140],[2025,38.8,640],[1847,36.4,900],[2199,42.8,280],[2225,43.9,100],[2061,44.0,560],[2124,47.2,860],[2204,49.8,860],[2325,57.9,470],[2267,52.0,470],[2214,55.1,560],[2157,52.8,560],[2099,51.7,280],[2057,49.1,408],[2036,46.3,100],[2109,53.7,640],[2455,51.4,100],[2361,53.1,100],[2316,54.3,280],[2246,62.5,640],[2309,62.2,408],[2151,61.9,640],[2120,63.4,408],[2022,59.6,408],[1953,58.0,408],[1858,59.8,280],[1776,52.0,280],[1805,44.6,280],[1784,41.8,280],[2141,57.1,408],[2183,57.6,280],
[1640,42.4,280],[1700,38.0,230],[1560,35.0,200],[1490,30.0,160],[1420,27.0,160],[1740,30.0,200],[1620,30.5,160],[1660,26.0,160],
[2791,101.8,150],[1935,96.3,100],[2088,97.1,100],[2319,95.4,120],[2420,93.7,120],[2549,96.6,100],[2696,95.5,100],[1920,93.7,100],[2214,93.4,100],[2718,86.0,470],[2980,86.0,300],[2865,85.3,300],[2697,84.5,280],[2624,85.3,280],[2707,77.8,300],[2812,77.5,280],[2881,76.3,560],[2918,75.5,300],[2749,72.7,860],[2791,70.7,350],[2644,73.5,350],[2508,74.7,560],[2487,72.4,350],[2393,71.3,350],[2204,70.1,860],[2455,76.4,280],[2592,80.9,300],[2907,87.7,280]
];

// highlighted municipalities (Grande São Luís)
const hlName = ["São Luís", "Paço do Lumiar", "São José de Ribamar", "Raposa"];
const hlX = [2798, 1636, 1604, 1040];
const hlY = [45.9, 25.6, 24.1, 24.0];
const hlPop = [1080, 312, 312, 30];
const labX = [2871, 1750, 1794, 941];
const labY = [47.9, 31.3, 24.5, 27.4];
const leadX = [null, 2015, 1725, 1070];
const leadY = [null, 29.0, 24.3, 24.8];

const popCore = 260, popBand = 300, popRight = 340, popLow = 150, popTiny = 45, popOut = 80;

const green = "#3cc486", purple = "#7536a6", gridColor = "#b3b3b3";
const fmt = d => d3.format(",")(d).replace(/,/g, ".");
const rows = (pts, pop) => pts.map(([x, y]) => ({x, y, pop}));

const greenRows = [
  ...rows(cloudCore, popCore),
  ...rows(cloudCore2, popCore),
  ...rows(cloudLow, popLow),
  ...rows(cloudBand, popBand),
  ...rows(cloudBand2, popBand),
  ...rows(cloudRight, popRight),
  ...rows(outliers, popOut),
  ...cities.map(([x, y, pop]) => ({x, y, pop}))
];
const tinyRows = rows(cloudTiny, popTiny);
const hl = hlName.map((name, i) => ({name, x: hlX[i], y: hlY[i], pop: hlPop[i], lx: labX[i], ly: labY[i], ex: leadX[i], ey: leadY[i]}));
const leads = hl.filter(d => d.ex != null);

const chart = Plot.plot({
  width: 1113, height: 818,
  marginLeft: 120, marginRight: 40, marginTop: 27, marginBottom: 86,
  x: {domain: [0, 6000]},
  y: {domain: [0, 120]},
  r: {type: "sqrt", domain: [0, 11250], range: [0, 21]},
  style: {fontFamily: "DejaVu Sans", fontSize: "25px", color: "#000", background: "#fff"},
  marks: [
    Plot.gridX(xTicks, {stroke: gridColor, strokeOpacity: 1, strokeWidth: 1.3}),
    Plot.gridY(yTicks, {stroke: gridColor, strokeOpacity: 1, strokeWidth: 1.3}),
    Plot.axisX(xTicks, {tickFormat: fmt, tickSize: 5, tickPadding: 15, stroke: gridColor, fill: "#000", label: null, fontSize: 25}),
    Plot.axisY(yTicks, {tickSize: 5, tickPadding: 16, stroke: gridColor, fill: "#000", label: null, fontSize: 25}),
    Plot.dot(tinyRows, {x: "x", y: "y", r: "pop", fill: green, fillOpacity: 0.3, stroke: green, strokeWidth: 0.9}),
    Plot.dot(greenRows, {x: "x", y: "y", r: "pop", fill: green, fillOpacity: 0.95, stroke: green, strokeWidth: 0.5}),
    Plot.link(leads, {x1: "x", y1: "y", x2: "ex", y2: "ey", stroke: "#000", strokeWidth: 1.5}),
    Plot.dot(hl, {x: "x", y: "y", r: "pop", fill: purple, stroke: purple, strokeWidth: 0.8}),
    Plot.text(hl, {x: "lx", y: "ly", text: "name", textAnchor: "start", lineAnchor: "bottom", fontSize: 26, fill: "#000"}),
    Plot.text([xLabel], {text: d => d, frameAnchor: "bottom", dy: 79, lineAnchor: "bottom", fontSize: 26.5, fill: "#000"}),
    Plot.text([yLabel], {text: d => d, frameAnchor: "left", dx: -89, rotate: -90, textAnchor: "middle", lineAnchor: "bottom", fontSize: 26.5, fill: "#000"})
  ]
});
document.getElementById("chart").appendChild(chart);
</script>
</body></html>
